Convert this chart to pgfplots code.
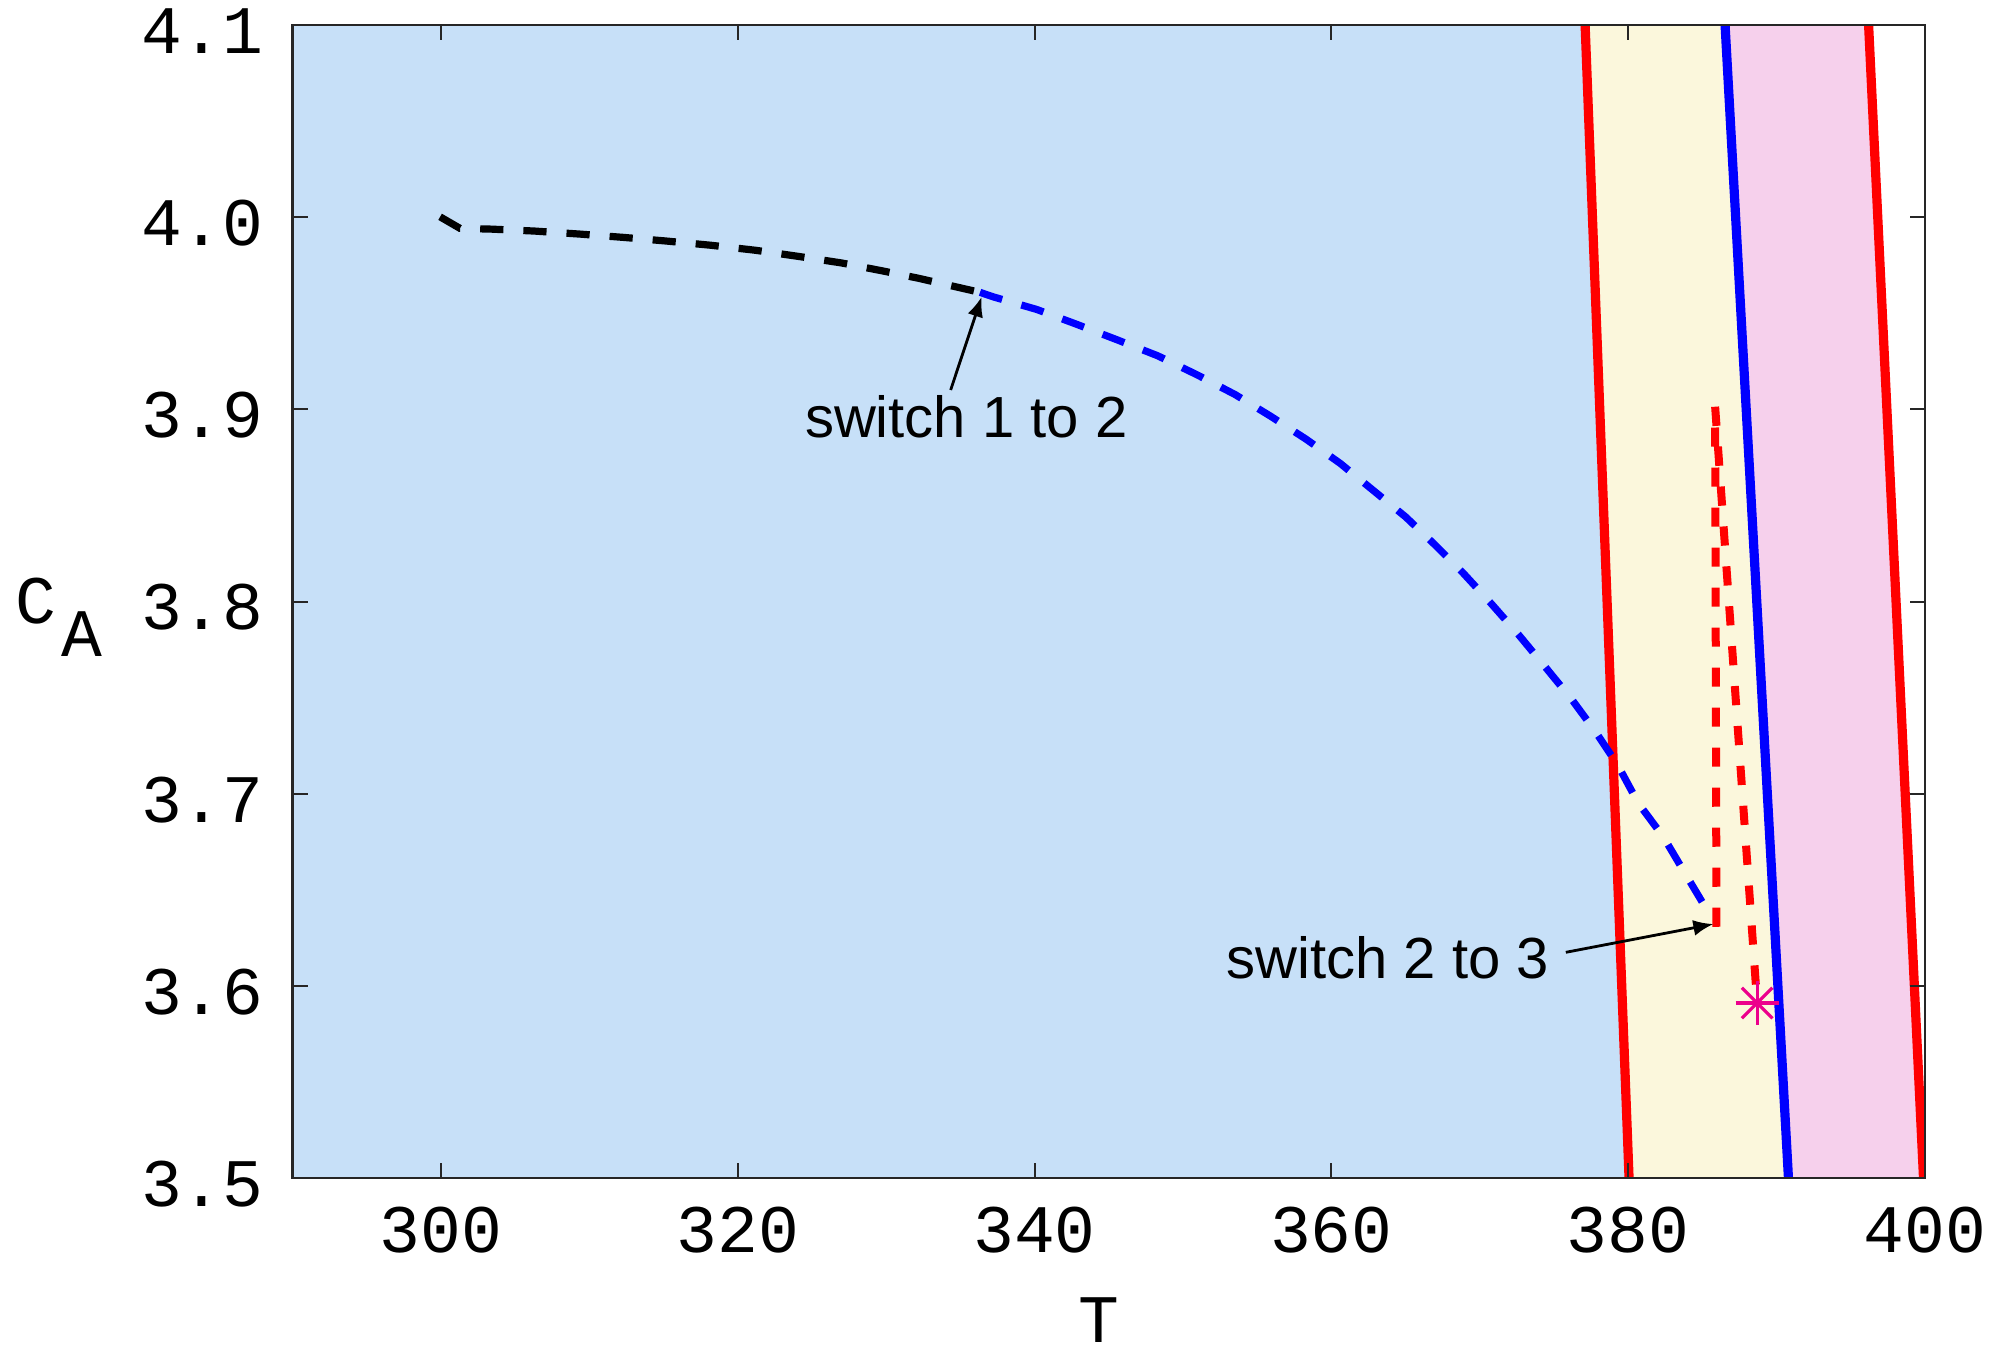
\documentclass[border=0pt]{standalone}
\usepackage{pgfplots}
\pgfplotsset{compat=1.18}
\usepackage{fontspec}
\setmainfont{Liberation Sans}
\newfontfamily\monofont{Liberation Mono}
\usetikzlibrary{arrows.meta}
\definecolor{bgblue}{HTML}{C7E0F8}
\definecolor{bgyellow}{HTML}{FBF7DC}
\definecolor{bgpink}{HTML}{F6D0EC}
\begin{document}
\begin{tikzpicture}
\begin{axis}[
  name=ax,
  width=408.1pt, height=288.25pt, scale only axis,
  xmin=290, xmax=400, ymin=3.5, ymax=4.1,
  xtick={300,320,340,360,380,400},
  ytick={3.5,3.6,3.7,3.8,3.9,4.0,4.1},
  tick pos=both, tick align=inside,
  major tick length=3.8pt,
  axis on top,
  axis line style={line width=0.6pt, black!85},
  tick style={line width=0.5pt, black!85},
  /pgf/number format/assume math mode=true,
  ticklabel style={font=\monofont\fontsize{17}{17}\selectfont},
  xticklabel style={anchor=center, yshift=-13pt},
  yticklabel style={anchor=east, inner sep=0pt, xshift=-7pt, yshift=-1.5pt,
    /pgf/number format/.cd, fixed, fixed zerofill, precision=1},
]
% region fills
\addplot[draw=none, fill=bgblue] coordinates {(289,3.5) (380.06,3.5) (377.1,4.1) (289,4.1)} -- cycle;
\addplot[draw=none, fill=bgyellow] coordinates {(380.06,3.5) (390.8,3.5) (386.53,4.1) (377.1,4.1)} -- cycle;
\addplot[draw=none, fill=bgpink] coordinates {(390.8,3.5) (399.9,3.5) (396.2,4.1) (386.53,4.1)} -- cycle;
% boundary lines
\addplot[red, line width=2.3pt] coordinates {(377.1,4.1) (380.06,3.5)};
\addplot[blue, line width=2.3pt] coordinates {(386.53,4.1) (390.8,3.5)};
\addplot[red, line width=2.3pt] coordinates {(396.2,4.1) (399.9,3.5)};
% trajectory, mode 1
\addplot[black, line width=1.8pt, dash pattern=on 5.8pt off 5pt] coordinates {
(299.95,4.0002) (301.29,3.9942) (303.4,3.9938) (306.3,3.9928) (309.4,3.9912)
(312.3,3.9895) (315.2,3.9876) (318.2,3.9854) (321.2,3.9828) (324.1,3.9796)
(327.0,3.9762) (329.8,3.9720) (332.2,3.9682) (336.33,3.9609)};
% trajectory, mode 2
\addplot[blue, line width=1.8pt, dash pattern=on 5.8pt off 5pt] coordinates {
(336.33,3.9609) (337.2,3.9586) (340.15,3.9520) (342.8,3.9444) (345.6,3.9361)
(348.3,3.9279) (350.9,3.9182) (353.5,3.9078) (355.9,3.8965) (358.3,3.8845)
(360.6,3.8719) (362.8,3.8580) (365.0,3.8441) (367.0,3.8294) (368.9,3.8147)
(370.8,3.7987) (372.6,3.7829) (374.4,3.7661) (376.2,3.7491) (377.8,3.7323)
(379.3,3.7149) (380.69,3.6950) (382.37,3.6776) (383.83,3.6586) (385.18,3.6412)
(385.52,3.6395)};
% trajectory, mode 3
\addplot[red, line width=2pt, dash pattern=on 4.8pt off 5.2pt] coordinates {
(385.95,3.6308) (385.86,3.9014) (388.69,3.5911)};
% end point
\addplot[magenta, line width=0.8pt, only marks, mark=+, mark size=5.4pt] coordinates {(388.69,3.5911)};
\addplot[magenta, line width=0.8pt, only marks, mark=x, mark size=5.4pt] coordinates {(388.69,3.5911)};
% annotations
\draw[-{Latex[length=5pt,width=4pt]}, line width=0.7pt] (axis cs:334.35,3.9101) -- (axis cs:336.44,3.9586);
\draw[-{Latex[length=5pt,width=4pt]}, line width=0.7pt] (axis cs:375.8,3.6175) -- (axis cs:385.74,3.6322);
\node[anchor=base, font=\fontsize{14.5}{14.5}\selectfont, inner sep=0pt] at (axis cs:335.4,3.8856) {switch 1 to 2};
\node[anchor=base, font=\fontsize{14.5}{14.5}\selectfont, inner sep=0pt] at (axis cs:363.8,3.6039) {switch 2 to 3};
\end{axis}
% axis labels
\node[font=\monofont\fontsize{17}{17}\selectfont, inner sep=0pt, xshift=-64.1pt] at (ax.west) {C};
\node[font=\monofont\fontsize{17}{17}\selectfont, inner sep=0pt, xshift=-52.6pt, yshift=-8.25pt] at (ax.west) {A};
\node[font=\monofont\fontsize{17}{17}\selectfont, inner sep=0pt, xshift=-2.5pt, yshift=-35.5pt] at (ax.south) {T};
\pgfresetboundingbox
\path[use as bounding box] ([xshift=-73.1pt,yshift=-43.75pt]ax.south west) rectangle ([xshift=427.6pt,yshift=294.5pt]ax.south west);
\end{tikzpicture}
\end{document}
